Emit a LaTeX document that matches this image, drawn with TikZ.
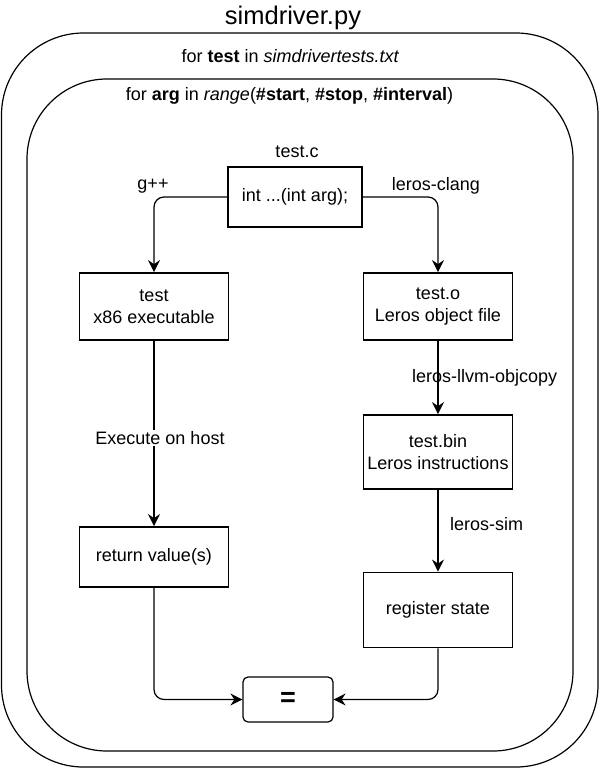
\documentclass[tikz,border=0pt]{standalone}
\usepackage{fontspec}
\setmainfont{Liberation Sans}
\usetikzlibrary{arrows.meta}
\begin{document}
\begin{tikzpicture}[x=1pt,y=-1pt,
  box/.style={draw,line width=1.8pt,fill=white,minimum width=149pt,align=center,inner sep=0pt,font=\fontsize{18}{22}\selectfont},
  lbl/.style={font=\fontsize{18}{22}\selectfont,inner sep=1pt},
  loopbox/.style={draw,line width=1.2pt,rounded corners=82pt},
  arr/.style={line width=1.8pt,-{Stealth[length=12pt,width=12pt,inset=4pt]}},
  elb/.style={line width=1.2pt,rounded corners=10pt,-{Stealth[length=12pt,width=12pt,inset=4pt]}}
]
\useasboundingbox (0,0) rectangle (600,771);
\draw[loopbox] (1.5,33) rectangle (598,767);
\draw[loopbox,rounded corners=80pt] (27,79) rectangle (573,751);
\node (title) at (293,18) {\fontsize{25.5}{28}\selectfont simdriver.py};
\node (l1) at (290.5,56) {\fontsize{18}{21}\selectfont for \textbf{test} in \textit{simdrivertests.txt}};
\node (l2) at (289.5,96) {\fontsize{18}{21}\selectfont for \textbf{arg} in \textit{range}(\textbf{\#start}, \textbf{\#stop}, \textbf{\#interval})};

\node[box,minimum width=134pt,minimum height=60pt] (src) at (295,197) {int ...(int arg);};
\node[lbl] (srclbl) at (297,152) {test.c};
\node[box,minimum height=67pt] (exe) at (154,306.5) {test\\x86 executable};
\node[box,minimum height=67pt] (obj) at (438,306.5) {test.o\\Leros object file};
\node[box,minimum height=74pt] (bin) at (438,452) {test.bin\\Leros instructions};
\node[box,minimum height=60pt] (ret) at (154,557) {return value(s)};
\node[box,minimum height=75pt] (reg) at (438,610) {register state};
\node[draw,line width=1.2pt,rounded corners=5pt,minimum width=90pt,minimum height=45pt,fill=white,font=\fontsize{27}{30}\selectfont\bfseries] (eq) at (288,699.5) {=};

\draw[elb] (src.west) -| (exe.north);
\draw[elb] (src.east) -| (obj.north);
\node[lbl] (gpp) at (153,186) {g++};
\node[lbl] (clang) at (436,186) {leros-clang};

\draw[arr] (obj.south) -- (bin.north);
\node[lbl,anchor=west] (objcopy) at (411,378) {leros-llvm-objcopy};
\draw[arr] (bin.south) -- (reg.north);
\node[lbl,anchor=west] (sim) at (449,524) {leros-sim};
\draw[arr] (exe.south) -- (ret.north);
\node[lbl,fill=white] (host) at (160,438) {Execute on host};

\draw[elb] (ret.south) |- (eq.west);
\draw[elb] (reg.south) |- (eq.east);
\end{tikzpicture}
\end{document}
